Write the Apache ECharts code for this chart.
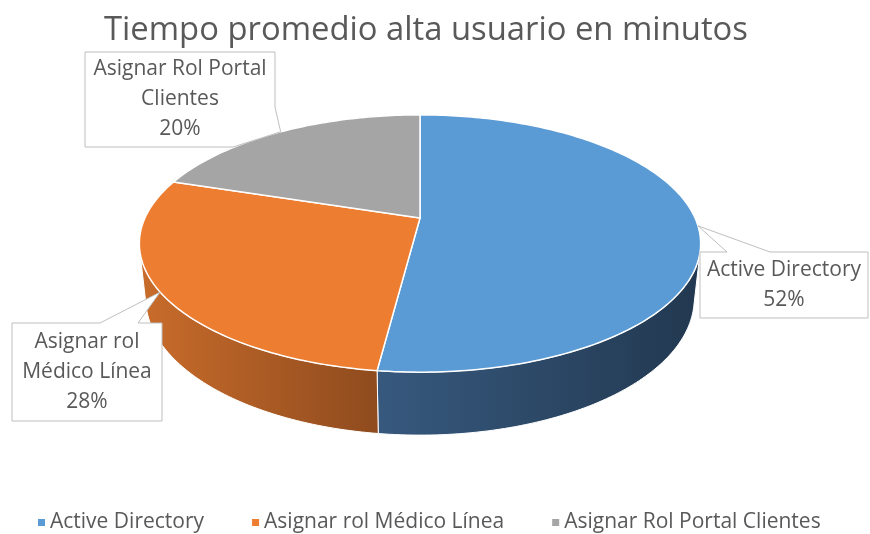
<!DOCTYPE html>
<html>
<head>
<meta charset="utf-8">
<script src="https://cdn.jsdelivr.net/npm/echarts@6/dist/echarts.min.js"></script>
<style>
  html, body { margin: 0; padding: 0; background: #fff; }
  #chart { width: 870px; height: 534px; }
</style>
</head>
<body>
<div id="chart"></div>
<script>
// datos
const categories = ['Active Directory', 'Asignar rol Médico Línea', 'Asignar Rol Portal Clientes'];
const minutes = [13, 7, 5];
const labelNames = ['Active Directory', 'Asignar rol\nMédico Línea', 'Asignar Rol Portal\nClientes'];

const topColors = ['#5b9bd5', '#ed7d31', '#a5a5a5'];
const sideColors = [['#37597e', '#223850'], ['#c96c2b', '#8f4b1e'], ['#8a8a8a', '#5c5c5c']];
const FONT = '"Open Sans", "Liberation Sans", sans-serif';
const TEXT = '#595959';

// vista 3d (perspectiva)
const cam = { cx: 420, cy: 218, f: 1239, D: 1, R: 0.222, H: 0.05, alpha: 26.7 * Math.PI / 180 };
const sinA = Math.sin(cam.alpha), cosA = Math.cos(cam.alpha);

// cajas de etiquetas, 'tip' = punta sobre la rebanada
const callouts = [
    { box: [700, 252, 168, 66], outline: [[700, 252], [727, 252], 'tip', [770, 252], [868, 252], [868, 318], [700, 318]] },
    { box: [12, 323, 150, 98], outline: [[12, 323], [100, 323], 'tip', [138, 323], [162, 323], [162, 421], [12, 421]] },
    { box: [85, 52, 190, 95], outline: [[85, 52], [275, 52], [275, 107], 'tip', [233, 147], [85, 147]] }
];

function project(theta, y) {
    const X = cam.R * Math.cos(theta), Z = cam.R * Math.sin(theta);
    const vy = y * cosA + Z * sinA;
    const vz = cam.D + Z * cosA - y * sinA;
    return [cam.cx + cam.f * X / vz, cam.cy - cam.f * vy / vz];
}

function arc(from, to, y) {
    const n = Math.max(2, Math.ceil(Math.abs(to - from) / (Math.PI / 180)));
    const pts = [];
    for (let i = 0; i <= n; i++) {
        pts.push(project(from + (to - from) * i / n, y));
    }
    return pts;
}

function sliceAngles(idx) {
    const total = minutes.reduce((a, b) => a + b, 0);
    let cum = 0;
    for (let i = 0; i < idx; i++) cum += minutes[i];
    const a0 = Math.PI / 2 - 2 * Math.PI * cum / total;
    const a1 = a0 - 2 * Math.PI * minutes[idx] / total;
    return [a0, a1, Math.round(minutes[idx] / total * 100)];
}

// parte visible del costado
const wallLim = Math.asin(cam.R / (cam.D * cosA));
const wallL = -Math.PI + wallLim, wallR = -wallLim;

function makeRender(idx) {
    return function (params, api) {
        const [a0, a1, pct] = sliceAngles(idx);
        const children = [];
        for (let k = -1; k <= 1; k++) {
            const lo = Math.max(a1, wallL + 2 * Math.PI * k);
            const hi = Math.min(a0, wallR + 2 * Math.PI * k);
            if (hi <= lo) continue;
            const pts = arc(hi, lo, 0).concat(arc(lo, hi, -cam.H));
            const xs = pts.map(p => p[0]);
            const xmin = Math.min.apply(null, xs), xmax = Math.max.apply(null, xs);
            children.push({
                type: 'polygon',
                shape: { points: pts },
                style: {
                    fill: new echarts.graphic.LinearGradient(xmin, 0, xmax, 0, [
                        { offset: 0, color: sideColors[idx][0] },
                        { offset: 1, color: sideColors[idx][1] }
                    ], true),
                    stroke: '#ffffff', lineWidth: 1
                }
            });
        }
        children.push({
            type: 'polygon',
            shape: { points: [[cam.cx, cam.cy]].concat(arc(a0, a1, 0)) },
            style: { fill: topColors[idx], stroke: '#ffffff', lineWidth: 1.5 }
        });
        // etiqueta
        const c = callouts[idx];
        const tip = project((a0 + a1) / 2, 0);
        children.push({
            type: 'polygon',
            shape: { points: c.outline.map(p => p === 'tip' ? tip : p) },
            style: { fill: '#ffffff', stroke: '#bfbfbf', lineWidth: 1 }
        });
        children.push({
            type: 'text',
            style: {
                text: labelNames[idx] + '\n' + pct + '%',
                x: c.box[0] + c.box[2] / 2,
                y: c.box[1] + c.box[3] / 2,
                align: 'center', verticalAlign: 'middle',
                fill: TEXT, fontSize: 21, lineHeight: 30, fontFamily: FONT
            }
        });
        return { type: 'group', children: children };
    };
}

const chart = echarts.init(document.getElementById('chart'));
chart.setOption({
    animation: false,
    title: {
        text: 'Tiempo promedio alta usuario en minutos',
        left: 99,
        top: 9,
        textStyle: { color: TEXT, fontSize: 32.8, fontWeight: 'normal', fontFamily: FONT }
    },
    legend: {
        data: categories,
        top: 512,
        left: 38,
        padding: 0,
        icon: 'rect',
        itemWidth: 7,
        itemHeight: 7,
        itemGap: 48,
        textStyle: { color: TEXT, fontSize: 21, fontFamily: FONT }
    },
    series: categories.map((name, i) => ({
        type: 'custom',
        name: name,
        coordinateSystem: 'none',
        itemStyle: { color: topColors[i] },
        data: [[minutes[i]]],
        renderItem: makeRender(i)
    }))
});
</script>
</body>
</html>
